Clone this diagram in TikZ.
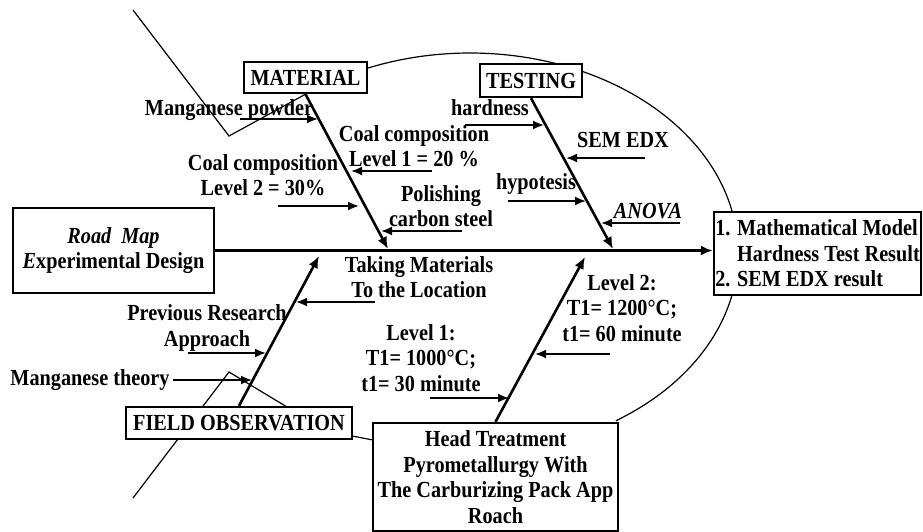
\documentclass[tikz,border=0pt]{standalone}
\usepackage{fontspec}
\setmainfont{Liberation Serif}[FakeStretch=0.88]
\usetikzlibrary{arrows.meta,calc}

\tikzset{
  lbl/.style={font=\bfseries\fontsize{23}{25.5}\selectfont, inner sep=0pt, align=center},
  catbox/.style={lbl, draw, line width=2.4pt, fill=white},
  bone/.style={line width=2.6pt, -{Latex[length=12pt,width=10pt]}},
  twig/.style={line width=1.8pt, -{Latex[length=11pt,width=9pt]}},
  fishline/.style={line width=1.2pt},
}

\begin{document}
\begin{tikzpicture}[x=1pt,y=-1pt]
\useasboundingbox (0,0) rectangle (923,532);

%% outer arc (behind everything)
\draw[fishline] plot[domain=-57:113, samples=90, smooth]
  ({470+268*cos(\x)},{253-200*sin(\x)});

%% zigzag lines
\coordinate (topL) at (133,10);
\coordinate (topV) at (229,136);
\coordinate (botL) at (133,498);
\coordinate (botV) at (229,372);
\coordinate (botR) at (287,407);
\draw[fishline] (botL) -- (botV) -- (botR);

%% boxes
\node[catbox, minimum width=123pt, minimum height=31pt] (mat) at (305.5,77.5) {MATERIAL};
\node[catbox, minimum width=102pt, minimum height=33pt] (test) at (531,80.5) {TESTING};
\node[catbox, minimum width=226pt, minimum height=32pt] (field) at (239,423) {FIELD OBSERVATION};
\node[catbox, minimum width=245pt, minimum height=108pt] (head) at (495.5,477)
  {Head Treatment\\Pyrometallurgy With\\The Carburizing Pack App\\Roach};
\node[lbl, draw, line width=1.2pt, fill=white, minimum width=201pt, minimum height=85pt]
  (road) at (113.5,250.5) {\itshape Road\ \ Map\\{\itshape E}xperimental Design};
\node[catbox, align=left, minimum width=207pt, minimum height=83pt] (out) at (817.5,253.5)
  {1. Mathematical Model\\\phantom{1. }Hardness Test Result\\2. SEM EDX result};

\draw[fishline] (topL) -- (topV) -- (mat.south);
\draw[fishline] ($(field.south east)+(0,-4)$) -- ($(head.north west)+(0,18)$);

%% spine
\draw[bone] (road.east) -- (road.east -| out.west);

%% main bones
\coordinate (matE) at (388,249);
\coordinate (testE) at (613,249);
\coordinate (fieldE) at (319,256);
\coordinate (headE) at (585,257);
\draw[bone] (mat.south) -- (matE);
\draw[bone] (test.south) -- (testE);
\draw[bone] (field.north) -- (fieldE);
\draw[bone] (head.north) -- (headE);

%% small arrows onto the bones
\foreach \n/\a/\b/\y in {mp/240/318/119, cb/278/359/206, ca/432/351/171, ps/462/381/231,
                         hd/465/544/125, se/645/566/158, hy/508/586/201, an/680/601/223,
                         tk/375/296/302, pr/188/266/353, mt/173/252/380,
                         lo/430/509/398, lt/610/535/354}{
  \coordinate (\n-s) at (\a,\y);
  \coordinate (\n-e) at (\b,\y);
  \draw[twig] (\n-s) -- (\n-e);
}

%% labels
\node[lbl] (mpL) at (229,110) {Manganese powder};
\node[lbl] (caL) at (414,146) {Coal composition\\Level 1 = 20 \%};
\node[lbl] (cbL) at (263,175) {Coal composition\\Level 2 = 30\%};
\node[lbl] (psL) at (441,206) {Polishing\\carbon steel};
\node[lbl] (hdL) at (490,108) {hardness};
\node[lbl] (seL) at (623,140) {SEM EDX};
\node[lbl] (hyL) at (536,184) {hypotesis};
\node[lbl] (anL) at (648,211) {\itshape ANOVA};
\node[lbl] (tkL) at (419,277) {Taking Materials\\To the Location};
\node[lbl] (prL) at (207,328) {Previous Research\\Approach};
\node[lbl] (mtL) at (90,380) {Manganese theory};
\node[lbl] (loL) at (421,358) {Level 1:\\T1= 1000°C;\\t1= 30 minute};
\node[lbl] (ltL) at (622,308) {Level 2:\\T1= 1200°C;\\t1= 60 minute};

\end{tikzpicture}
\end{document}
